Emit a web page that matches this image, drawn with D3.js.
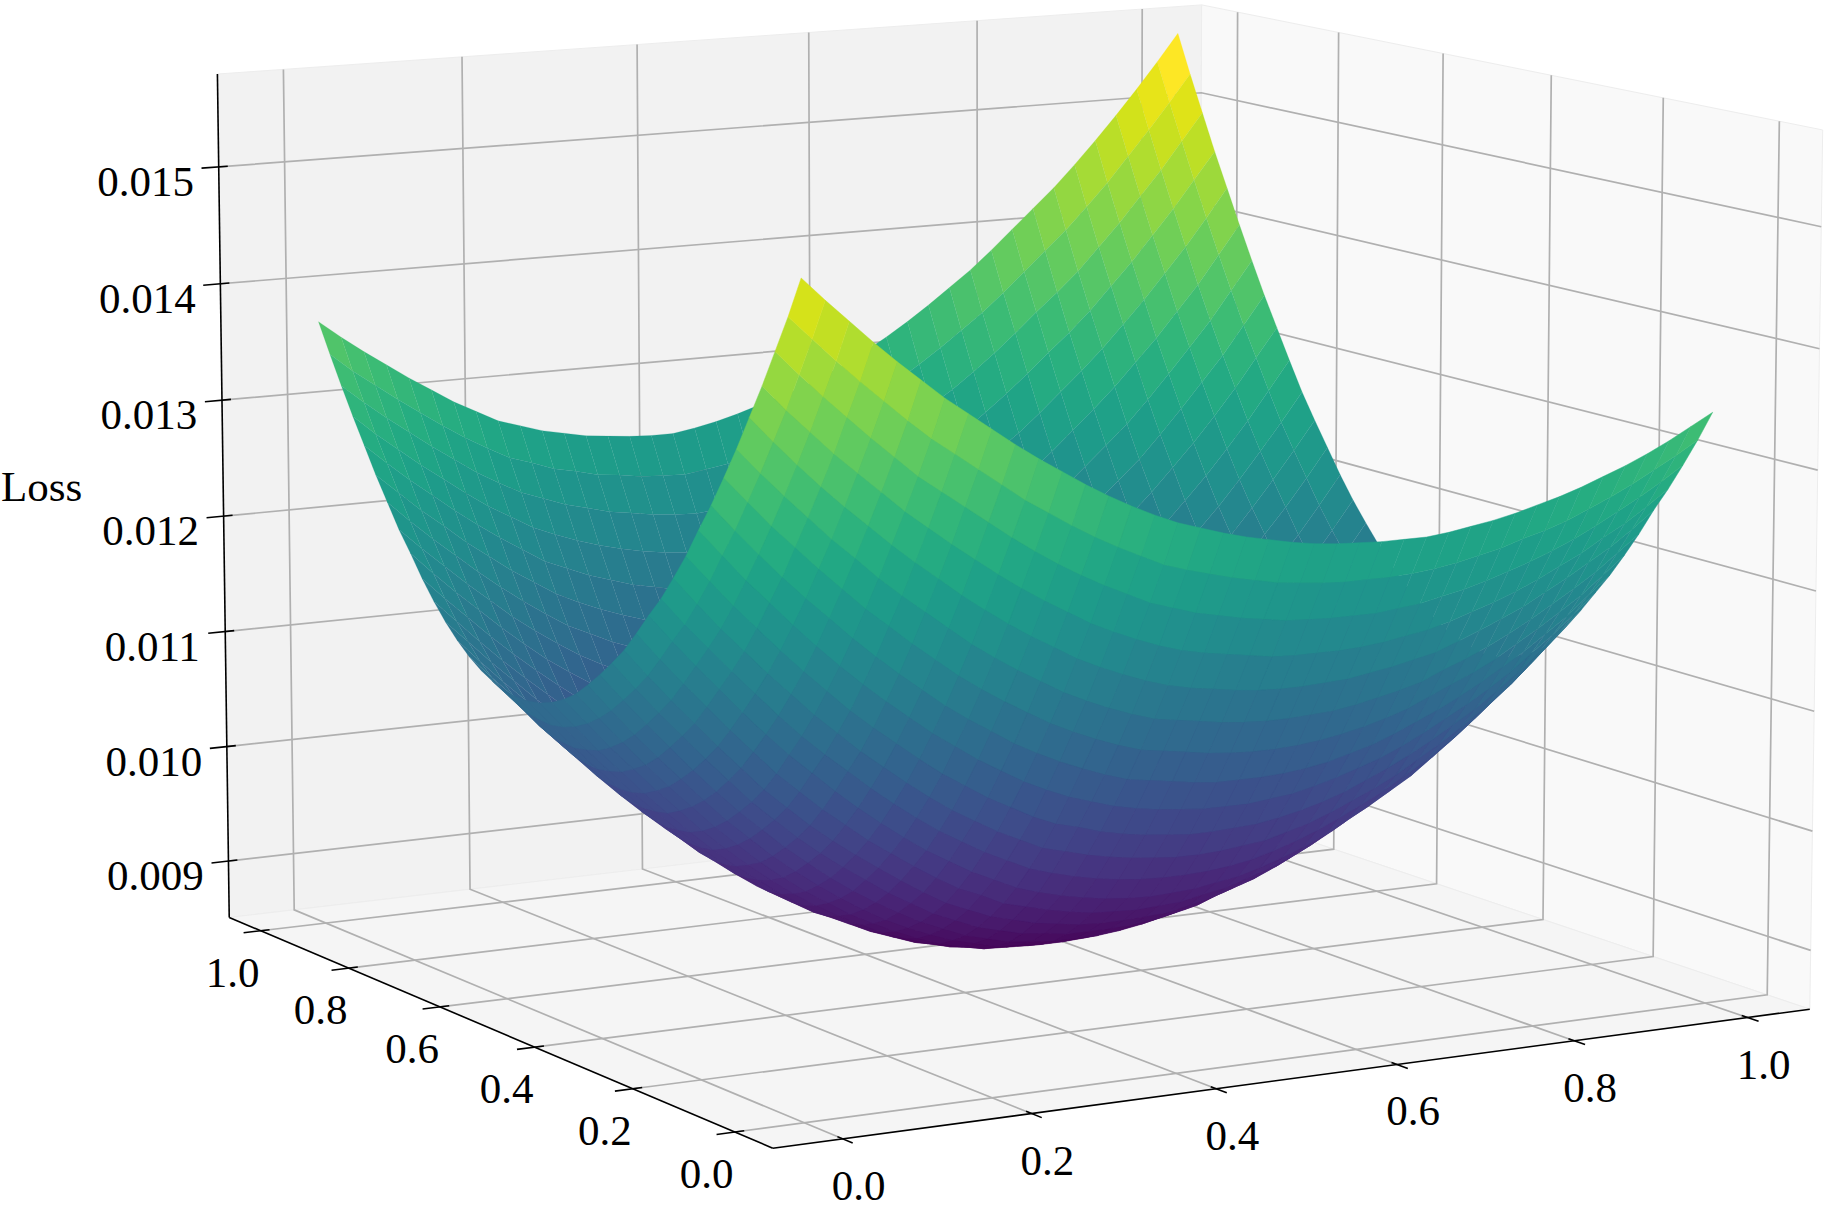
<!DOCTYPE html>
<html><head><meta charset="utf-8">
<style>html,body{margin:0;padding:0;background:#fff}svg{display:block}text{font-family:"Liberation Serif",serif;font-size:43px;fill:#000}</style>
<script src="https://cdnjs.cloudflare.com/ajax/libs/d3/7.8.5/d3.min.js"></script>
</head><body><svg id="c" width="1833" height="1215"></svg>
<script>
const gridX=d3.range(41).map(i=>i/40);
const gridY=d3.range(41).map(i=>i/40);
const lossUnit=1e-5;
const lossRows=[
[1518,1499,1481,1463,1446,1430,1414,1400,1386,1372,1359,1347,1335,1324,1314,1305,1297,1291,1285,1280,1276,1272,1269,1267,1266,1265,1265,1265,1267,1270,1273,1277,1282,1287,1293,1300,1307,1315,1324,1334,1344],
[1485,1466,1447,1429,1412,1395,1379,1365,1351,1337,1323,1311,1299,1288,1278,1269,1260,1254,1249,1244,1240,1236,1234,1232,1231,1231,1231,1232,1234,1237,1241,1245,1251,1256,1262,1270,1278,1287,1297,1307,1318],
[1455,1435,1416,1398,1380,1363,1346,1332,1318,1304,1290,1277,1265,1254,1244,1235,1226,1220,1214,1210,1206,1203,1200,1199,1198,1198,1198,1200,1202,1206,1210,1215,1221,1227,1234,1242,1251,1261,1271,1282,1294],
[1425,1404,1385,1366,1349,1332,1315,1300,1285,1271,1257,1244,1232,1221,1210,1201,1193,1186,1180,1176,1173,1170,1167,1166,1166,1166,1167,1169,1172,1175,1180,1186,1192,1199,1207,1216,1225,1236,1246,1258,1271],
[1397,1376,1356,1337,1319,1302,1285,1269,1254,1239,1225,1212,1200,1189,1178,1169,1161,1154,1148,1144,1141,1138,1136,1135,1135,1136,1137,1140,1143,1147,1151,1158,1165,1173,1181,1191,1201,1212,1223,1236,1250],
[1369,1348,1328,1309,1290,1273,1255,1239,1224,1209,1194,1181,1169,1158,1147,1138,1130,1123,1117,1114,1111,1108,1106,1105,1105,1106,1107,1110,1114,1118,1123,1131,1138,1146,1155,1165,1176,1187,1199,1213,1227],
[1343,1322,1301,1282,1263,1245,1227,1211,1195,1180,1165,1152,1140,1129,1118,1109,1101,1094,1088,1085,1082,1079,1077,1076,1076,1077,1079,1082,1086,1091,1097,1105,1113,1121,1130,1141,1152,1164,1176,1191,1206],
[1318,1296,1275,1255,1236,1218,1200,1183,1167,1152,1137,1124,1112,1100,1090,1081,1073,1066,1060,1057,1054,1051,1049,1049,1049,1050,1052,1055,1060,1065,1072,1080,1088,1097,1107,1118,1129,1142,1155,1171,1186],
[1295,1273,1251,1231,1211,1192,1174,1157,1141,1126,1111,1098,1085,1074,1063,1054,1046,1040,1034,1030,1027,1025,1023,1023,1023,1025,1027,1031,1036,1042,1048,1056,1065,1075,1085,1096,1108,1122,1136,1152,1168],
[1271,1249,1227,1207,1187,1168,1150,1132,1116,1101,1086,1072,1060,1048,1038,1028,1020,1015,1009,1005,1002,1000,998,998,999,1000,1003,1007,1012,1018,1026,1034,1043,1053,1064,1075,1088,1102,1117,1133,1150],
[1250,1227,1205,1185,1165,1146,1127,1110,1093,1078,1063,1049,1036,1025,1014,1005,996,991,986,982,979,977,975,975,976,978,980,985,990,997,1005,1013,1022,1033,1044,1056,1069,1084,1099,1116,1133],
[1230,1207,1186,1165,1145,1125,1106,1089,1073,1057,1042,1028,1015,1004,993,984,975,969,964,960,957,955,954,954,955,957,960,965,971,978,986,995,1004,1015,1026,1039,1053,1068,1083,1100,1118],
[1213,1190,1168,1147,1126,1106,1087,1070,1053,1037,1022,1008,995,984,973,964,955,949,944,940,937,935,934,935,936,939,942,947,953,960,968,978,988,999,1010,1024,1038,1053,1069,1087,1105],
[1195,1172,1150,1129,1108,1088,1068,1051,1034,1019,1004,991,978,966,955,947,938,933,928,924,921,920,919,920,921,925,928,934,940,947,956,966,977,988,1000,1014,1029,1044,1061,1079,1098],
[1178,1155,1133,1112,1091,1071,1051,1034,1017,1002,988,975,962,950,939,931,923,918,913,910,907,906,906,907,908,912,916,922,928,936,945,956,967,979,991,1006,1021,1037,1054,1073,1092],
[1164,1141,1119,1098,1077,1057,1037,1020,1003,988,974,961,948,937,926,918,910,905,900,898,895,895,895,896,898,902,906,913,919,928,937,948,960,972,985,1000,1016,1032,1050,1069,1089],
[1151,1128,1106,1085,1064,1044,1025,1008,991,976,961,948,936,925,915,907,899,894,889,887,885,885,885,887,890,894,898,905,912,921,931,942,954,967,980,996,1012,1029,1047,1067,1088],
[1139,1116,1094,1073,1053,1033,1014,997,980,965,951,938,926,915,906,898,891,886,881,880,878,878,879,881,885,889,894,901,908,918,928,940,952,966,980,996,1012,1030,1048,1069,1090],
[1128,1106,1084,1063,1043,1024,1005,988,971,956,942,930,918,908,899,891,884,879,875,874,873,873,874,877,881,886,892,899,906,916,927,939,952,966,981,997,1014,1032,1051,1072,1094],
[1120,1098,1076,1056,1036,1017,998,981,965,950,936,924,913,903,894,887,880,875,872,871,870,871,872,876,880,885,892,899,907,917,928,941,954,969,984,1001,1018,1037,1056,1078,1100],
[1114,1092,1070,1050,1030,1011,993,976,960,946,932,920,909,900,891,884,877,873,870,869,869,870,872,876,880,886,893,901,909,920,931,944,958,973,989,1006,1024,1043,1063,1085,1108],
[1110,1088,1067,1047,1027,1009,991,974,958,944,930,919,908,900,891,884,878,874,871,871,871,873,875,879,883,890,897,905,914,925,937,950,964,980,996,1013,1032,1051,1071,1094,1117],
[1108,1086,1065,1045,1026,1008,990,974,958,944,931,920,910,901,893,886,880,877,874,874,875,877,879,883,888,895,903,911,920,932,944,958,972,988,1004,1022,1041,1061,1081,1104,1128],
[1108,1087,1066,1046,1027,1009,992,976,960,947,934,924,914,905,897,891,885,882,880,880,881,884,886,891,896,903,911,920,929,941,954,968,983,999,1015,1033,1053,1073,1094,1117,1141],
[1110,1089,1068,1049,1030,1012,995,979,964,951,939,929,919,911,903,897,891,889,887,888,889,892,895,900,905,912,920,930,940,952,965,980,995,1011,1027,1046,1066,1087,1108,1132,1156],
[1114,1094,1073,1054,1036,1018,1001,985,970,958,946,937,927,919,911,906,901,899,897,898,900,903,906,911,917,924,932,943,953,965,978,993,1009,1025,1041,1061,1081,1102,1123,1147,1172],
[1120,1100,1080,1061,1043,1025,1008,993,978,966,955,946,937,929,921,916,912,910,909,910,912,915,919,924,930,938,946,957,968,980,993,1008,1024,1040,1057,1077,1097,1118,1140,1164,1189],
[1128,1108,1089,1070,1052,1035,1018,1003,989,977,966,957,948,941,934,929,925,923,923,924,926,930,934,939,946,954,962,973,985,997,1010,1026,1042,1058,1075,1095,1116,1137,1159,1183,1208],
[1138,1118,1099,1081,1063,1046,1029,1015,1001,989,978,969,961,954,948,943,939,938,938,940,942,946,950,956,963,971,980,991,1003,1016,1029,1045,1061,1078,1095,1115,1136,1158,1180,1204,1229],
[1150,1131,1112,1094,1076,1060,1043,1029,1016,1004,994,985,977,971,965,960,956,956,956,958,961,965,969,975,982,990,999,1011,1023,1036,1049,1065,1081,1098,1116,1136,1156,1178,1201,1225,1250],
[1164,1145,1126,1108,1091,1075,1059,1045,1032,1021,1011,1003,995,989,983,979,975,975,976,978,981,985,990,996,1003,1011,1020,1032,1044,1057,1071,1087,1103,1120,1138,1158,1178,1200,1223,1247,1272],
[1180,1161,1143,1125,1108,1092,1077,1063,1051,1040,1030,1022,1015,1009,1003,1000,997,997,998,1000,1003,1007,1012,1019,1026,1034,1044,1056,1068,1081,1095,1111,1127,1144,1162,1182,1202,1224,1247,1272,1297],
[1198,1179,1161,1144,1127,1111,1096,1083,1071,1061,1051,1043,1036,1030,1025,1022,1020,1020,1021,1024,1027,1031,1036,1043,1050,1059,1069,1081,1093,1106,1120,1136,1153,1170,1188,1208,1228,1250,1273,1298,1323],
[1215,1197,1180,1163,1147,1131,1117,1104,1092,1082,1073,1065,1059,1053,1048,1046,1044,1044,1045,1049,1052,1057,1062,1069,1076,1085,1095,1107,1119,1133,1147,1163,1180,1197,1214,1234,1255,1277,1299,1324,1349],
[1235,1217,1200,1184,1168,1153,1139,1126,1114,1105,1096,1089,1083,1078,1073,1071,1069,1070,1071,1075,1079,1084,1089,1096,1103,1113,1123,1135,1147,1161,1175,1191,1208,1225,1242,1262,1283,1305,1327,1352,1377],
[1255,1238,1221,1206,1190,1176,1162,1150,1138,1129,1121,1114,1108,1104,1099,1097,1096,1097,1098,1102,1107,1112,1117,1125,1132,1142,1152,1164,1176,1190,1204,1220,1237,1254,1272,1292,1312,1334,1356,1381,1406],
[1277,1260,1244,1229,1214,1200,1187,1175,1163,1155,1147,1141,1135,1131,1127,1125,1124,1125,1127,1131,1136,1141,1147,1155,1163,1173,1183,1195,1207,1221,1235,1251,1268,1285,1303,1323,1343,1365,1387,1411,1436],
[1299,1282,1267,1252,1238,1224,1211,1200,1189,1181,1174,1168,1163,1159,1156,1154,1153,1154,1157,1161,1166,1172,1178,1186,1194,1204,1214,1226,1238,1252,1267,1283,1300,1316,1334,1354,1374,1396,1418,1442,1466],
[1322,1306,1291,1277,1263,1250,1237,1226,1216,1209,1202,1197,1192,1189,1186,1184,1183,1185,1188,1193,1198,1204,1210,1218,1226,1236,1247,1259,1271,1285,1300,1316,1333,1349,1366,1386,1406,1428,1450,1474,1498],
[1346,1330,1316,1302,1289,1276,1264,1253,1243,1237,1230,1226,1221,1219,1216,1215,1214,1217,1220,1225,1231,1237,1243,1251,1259,1269,1280,1292,1305,1319,1333,1349,1366,1383,1400,1419,1439,1461,1483,1506,1530],
[1371,1356,1342,1329,1316,1304,1292,1282,1272,1266,1260,1256,1252,1250,1248,1247,1247,1250,1254,1259,1265,1271,1277,1285,1294,1304,1315,1327,1340,1354,1368,1384,1401,1418,1435,1454,1474,1495,1517,1540,1564]];
const xTicks=[0,.2,.4,.6,.8,1], yTicks=[0,.2,.4,.6,.8,1];
const zTicks=[.009,.010,.011,.012,.013,.014,.015];
const xLim=[-.0729,1.0729], yLim=[-.0729,1.0729], zLim=[.008506,.015791];
const camera={elev:10,azim:-120,dist:10,scale:9790,cx:1002.7,cy:535.2};
const boxL=1.1905, boxH=.8929;

const sx=d3.scaleLinear().domain(xLim).range([-boxL/2,boxL/2]);
const sy=d3.scaleLinear().domain(yLim).range([-boxL/2,boxL/2]);
const sz=d3.scaleLinear().domain(zLim).range([-boxH/2,boxH/2]);
const el=camera.elev*Math.PI/180, az=camera.azim*Math.PI/180;
const e=[Math.cos(el)*Math.cos(az),Math.cos(el)*Math.sin(az),Math.sin(el)];
const ul=Math.hypot(e[0],e[1]);
const u=[-e[1]/ul,e[0]/ul,0];
const v=[e[1]*u[2]-e[2]*u[1],e[2]*u[0]-e[0]*u[2],e[0]*u[1]-e[1]*u[0]];
const dot=(a,b)=>a[0]*b[0]+a[1]*b[1]+a[2]*b[2];
const screenX=d3.scaleLinear().domain([0,1]).range([camera.cx,camera.cx+camera.scale]);
const screenY=d3.scaleLinear().domain([0,1]).range([camera.cy,camera.cy-camera.scale]);
function project(x,y,z){const p=[sx(x),sy(y),sz(z)];const d=dot(e,p);const w=camera.dist-d;return [screenX(dot(u,p)/w),screenY(dot(v,p)/w),d];}
const svg=d3.select('#c');
const line=d3.line();
const path=(pts)=>line(pts.map(p=>project(...p)));
const [x0,x1]=xLim,[y0,y1]=yLim,[z0,z1]=zLim;
const panes=[
 {fill:'#f2f2f2',pts:[[x0,y1,z0],[x1,y1,z0],[x1,y1,z1],[x0,y1,z1]]},
 {fill:'#f9f9f9',pts:[[x1,y1,z0],[x1,y0,z0],[x1,y0,z1],[x1,y1,z1]]},
 {fill:'#f5f5f5',pts:[[x0,y0,z0],[x1,y0,z0],[x1,y1,z0],[x0,y1,z0]]}];
svg.selectAll('path.pane').data(panes).join('path').attr('class','pane')
 .attr('d',d=>path(d.pts)+'Z').attr('fill',d=>d.fill).attr('stroke','#ededed').attr('stroke-width',1);
const gridLines=[];
xTicks.forEach(t=>gridLines.push([[t,y0,z0],[t,y1,z0],[t,y1,z1]]));
yTicks.forEach(t=>gridLines.push([[x0,t,z0],[x1,t,z0],[x1,t,z1]]));
zTicks.forEach(t=>gridLines.push([[x0,y1,t],[x1,y1,t],[x1,y0,t]]));
svg.selectAll('path.grid').data(gridLines).join('path').attr('class','grid').attr('d',path)
 .attr('fill','none').attr('stroke','#b0b0b0').attr('stroke-width',1.7);
const axes=[[[x0,y0,z0],[x1,y0,z0]],[[x0,y0,z0],[x0,y1,z0]],[[x0,y1,z0],[x0,y1,z1]]];
svg.selectAll('path.axis').data(axes).join('path').attr('class','axis').attr('d',path)
 .attr('fill','none').attr('stroke','#000').attr('stroke-width',1.6);
const rx=x1-x0, ry=y1-y0, tIn=.0087, tOut=.0165;
const ticks=[];
xTicks.forEach(t=>ticks.push({a:[t,y0+tIn*ry,z0],b:[t,y0-tOut*ry,z0],label:t.toFixed(1),dx:16,dy:47,at:[t,y0,z0]}));
yTicks.forEach(t=>ticks.push({a:[x0+tIn*rx,t,z0],b:[x0-tOut*rx,t,z0],label:t.toFixed(1),dx:-28,dy:42,at:[x0,t,z0]}));
zTicks.forEach(t=>ticks.push({a:[x0+tIn*rx,y1,t],b:[x0-tOut*rx,y1,t],label:t.toFixed(3),dx:-73,dy:15,at:[x0,y1,t]}));
svg.selectAll('path.tick').data(ticks).join('path').attr('class','tick').attr('d',d=>path([d.a,d.b]))
 .attr('stroke','#000').attr('stroke-width',1.6).attr('fill','none');
const faces=[];
for(let j=0;j<gridY.length-1;j++)for(let i=0;i<gridX.length-1;i++){
 const c=[[i,j],[i+1,j],[i+1,j+1],[i,j+1]].map(([a,b])=>[gridX[a],gridY[b],lossRows[b][a]*lossUnit]);
 const pr=c.map(p=>project(...p));
 let area=0; pr.forEach((p,k)=>{const q=pr[(k+1)%4];area+=p[0]*q[1]-q[0]*p[1];});
 faces.push({z:d3.mean(c,p=>p[2]),depth:d3.mean(pr,p=>p[2]),inner:area<0,d:line(pr.map(p=>[p[0],p[1]]))+'Z'});
}
faces.sort((a,b)=>d3.ascending(a.depth,b.depth));
const color=d3.scaleSequential(d3.interpolateViridis).domain(d3.extent(faces,f=>f.z));
svg.selectAll('path.face').data(faces).join('path').attr('class','face').attr('d',d=>d.d)
 .attr('fill',d=>color(d.z)).attr('stroke',d=>color(d.z)).attr('stroke-width',d=>d.inner?.2:.45);
svg.selectAll('text.tl').data(ticks).join('text').attr('class','tl').attr('text-anchor','middle')
 .attr('x',d=>project(...d.at)[0]+d.dx)
 .attr('y',d=>project(...d.at)[1]+d.dy+14)
 .text(d=>d.label);
svg.append('text').attr('x',1).attr('y',501).text('Loss');
</script></body></html>
